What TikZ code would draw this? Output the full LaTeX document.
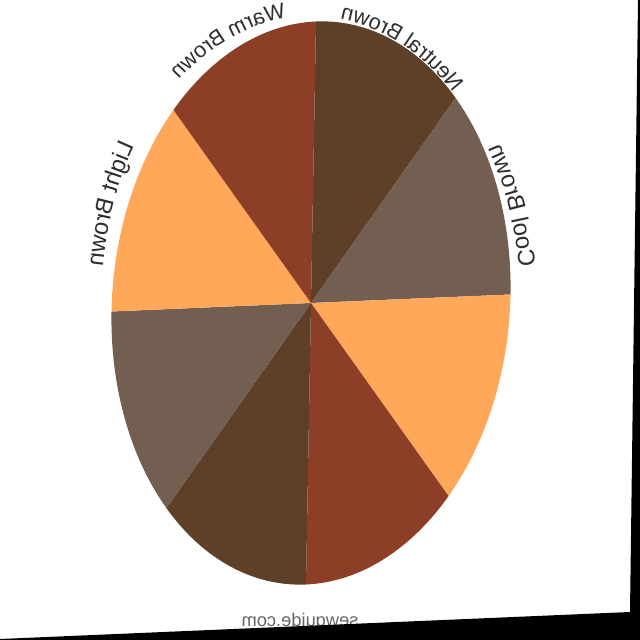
\documentclass[tikz,border=0pt]{standalone}
\usepackage{fontspec}
\usetikzlibrary{decorations.text}
\newfontfamily\labelfont{Liberation Sans}
\definecolor{DarkClr}{HTML}{5E4029}
\definecolor{CoolClr}{HTML}{735E52}
\definecolor{LightClr}{HTML}{FFA85A}
\definecolor{WarmClr}{HTML}{8C3F26}
\definecolor{TextClr}{HTML}{2E2E2E}

\begin{document}
\begin{tikzpicture}[
  lbl/.style 2 args={decorate,decoration={text along path,text align=center,
    text color=TextClr,text={|\labelfont\fontsize{#1}{20}\selectfont|#2}}}]
\useasboundingbox[fill=white] (0,0) rectangle (16,16);

% slices, clockwise from the top
\begin{scope}[cm={4.9875,0.2125,0.125,7.0375,(7.775,8.425)}]
\foreach \a/\clr in {90/DarkClr,45/CoolClr,0/LightClr,-45/WarmClr,
                     -90/DarkClr,-135/CoolClr,180/LightClr,135/WarmClr}
  \fill[\clr] (0,0) -- (\a:1) arc[start angle=\a,delta angle=-45,radius=1] -- cycle;
\end{scope}

% the photo is mirrored
\begin{scope}[transform canvas={xshift=16cm,xscale=-1}]
\coordinate (ctr) at (8.225,8.425);
\path[lbl={15.5}{Neutral Brown}] ([shift={(157.5:5.24 and 7.17)}]ctr)
  arc[start angle=157.5,end angle=67.5,x radius=5.24,y radius=7.17];
\path[lbl={15.5}{Warm Brown}] ([shift={(115:5.24 and 7.17)}]ctr)
  arc[start angle=115,end angle=25,x radius=5.24,y radius=7.17];
\path[lbl={17}{Cool Brown}] ([shift={(203:5.24 and 7.27)}]ctr)
  arc[start angle=203,end angle=113,x radius=5.24,y radius=7.27];
\path[lbl={17}{Light Brown}] ([shift={(67.5:5.24 and 7.27)}]ctr)
  arc[start angle=67.5,end angle=-22.5,x radius=5.24,y radius=7.27];
\node[text=black!60,font=\labelfont\fontsize{13}{15}\selectfont] (site) at (8.5,0.45) {sewguide.com};
\end{scope}

\fill[black] (15.95,16) -- (16,16) -- (16,0) -- (0,0) -- (0,0.025) -- (15.75,0.7) -- cycle;
\end{tikzpicture}
\end{document}
